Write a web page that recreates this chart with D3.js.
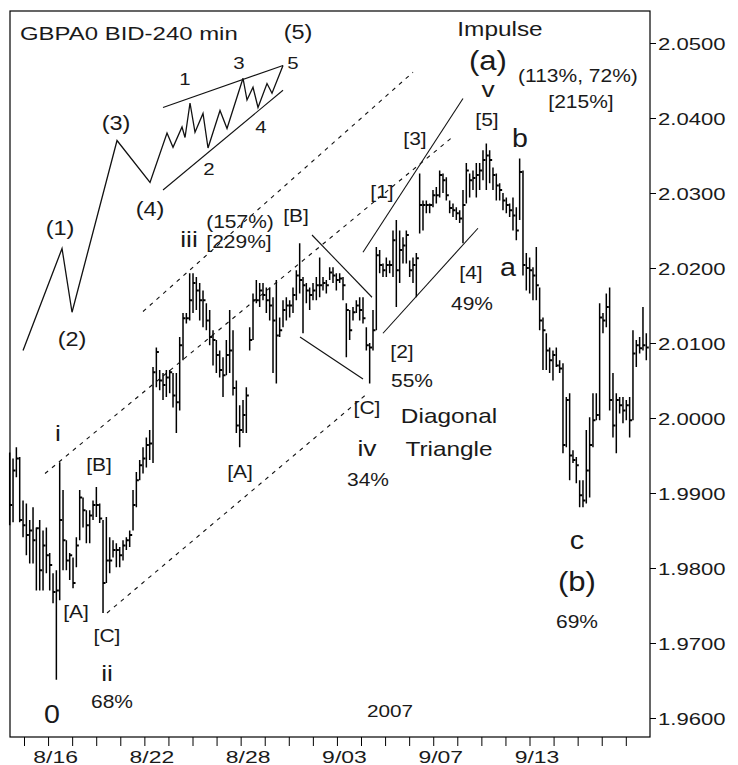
<!DOCTYPE html>
<html>
<head>
<meta charset="utf-8">
<script src="https://cdn.jsdelivr.net/npm/d3@7/dist/d3.min.js"></script>
<style>
  body { margin: 0; background: #fff; }
  text { font-family: "Liberation Sans", Arial, sans-serif; fill: #1a1a1a; }
</style>
</head>
<body>
<svg id="chart"></svg>
<script>
// GBP/USD 240 min bars, 2007
const highs = [
  1.9954,1.9946,1.9961,1.9948,1.9890,1.9886,1.9864,1.9881,1.9854,1.9864,
  1.9850,1.9854,1.9820,1.9793,1.9797,1.9941,1.9904,1.9837,1.9820,1.9814,
  1.9841,1.9904,1.9894,1.9877,1.9877,1.9890,1.9908,1.9886,1.9864,1.9868,
  1.9841,1.9837,1.9833,1.9828,1.9837,1.9841,1.9850,1.9904,1.9928,1.9944,
  1.9961,1.9974,1.9984,2.0068,2.0094,2.0064,2.0060,2.0064,2.0064,2.0060,
  2.0060,2.0108,2.0140,2.0140,2.0193,2.0193,2.0188,2.0180,2.0170,2.0153,
  2.0144,2.0117,2.0104,2.0090,2.0081,2.0104,2.0144,2.0117,2.0050,2.0017,
  2.0024,2.0041,2.0121,2.0166,2.0184,2.0180,2.0180,2.0174,2.0174,2.0161,
  2.0184,2.0134,2.0157,2.0161,2.0157,2.0174,2.0197,2.0233,2.0188,2.0180,
  2.0174,2.0180,2.0188,2.0214,2.0188,2.0184,2.0201,2.0201,2.0193,2.0193,
  2.0188,2.0153,2.0144,2.0148,2.0157,2.0161,2.0161,2.0121,2.0100,2.0144,
  2.0228,2.0224,2.0206,2.0214,2.0210,2.0250,2.0264,2.0250,2.0241,2.0250,
  2.0210,2.0214,2.0220,2.0326,2.0290,2.0290,2.0286,2.0304,2.0308,2.0330,
  2.0326,2.0321,2.0290,2.0286,2.0281,2.0277,2.0304,2.0340,2.0326,2.0330,
  2.0340,2.0340,2.0357,2.0366,2.0357,2.0334,2.0326,2.0313,2.0300,2.0294,
  2.0286,2.0294,2.0281,2.0346,2.0330,2.0220,2.0214,2.0201,2.0228,2.0174,
  2.0134,2.0113,2.0094,2.0090,2.0094,2.0077,2.0073,2.0028,2.0033,1.9957,
  1.9948,1.9917,1.9917,1.9984,2.0001,2.0033,2.0033,2.0153,2.0140,2.0166,
  2.0174,2.0060,2.0033,2.0028,2.0028,2.0024,2.0028,2.0117,2.0104,2.0108,
  2.0148,2.0113
];
const lows = [
  1.9857,1.9861,1.9921,1.9861,1.9841,1.9817,1.9806,1.9806,1.9770,1.9770,
  1.9770,1.9793,1.9770,1.9753,1.9651,1.9757,1.9797,1.9797,1.9784,1.9773,
  1.9801,1.9837,1.9854,1.9833,1.9833,1.9864,1.9868,1.9860,1.9740,1.9780,
  1.9793,1.9814,1.9801,1.9801,1.9810,1.9824,1.9828,1.9850,1.9881,1.9917,
  1.9926,1.9934,1.9944,1.9940,2.0041,2.0037,2.0024,2.0028,2.0033,2.0014,
  1.9980,2.0010,2.0077,2.0126,2.0130,2.0140,2.0144,2.0130,2.0121,2.0117,
  2.0097,2.0070,2.0060,2.0054,2.0028,2.0057,2.0060,2.0030,1.9980,1.9961,
  1.9980,1.9980,2.0090,2.0104,2.0153,2.0148,2.0157,2.0140,2.0130,2.0060,
  2.0046,2.0108,2.0121,2.0130,2.0134,2.0140,2.0157,2.0166,2.0113,2.0153,
  2.0144,2.0157,2.0157,2.0161,2.0170,2.0166,2.0184,2.0180,2.0170,2.0180,
  2.0157,2.0081,2.0104,2.0130,2.0140,2.0130,2.0126,2.0090,2.0046,2.0090,
  2.0117,2.0193,2.0188,2.0188,2.0193,2.0188,2.0148,2.0180,2.0206,2.0206,
  2.0188,2.0180,2.0161,2.0246,2.0250,2.0273,2.0273,2.0281,2.0286,2.0294,
  2.0300,2.0290,2.0273,2.0268,2.0264,2.0260,2.0233,2.0286,2.0294,2.0304,
  2.0294,2.0304,2.0317,2.0304,2.0313,2.0304,2.0290,2.0290,2.0277,2.0273,
  2.0268,2.0250,2.0237,2.0264,2.0190,2.0170,2.0166,2.0157,2.0157,2.0117,
  2.0064,2.0064,2.0060,2.0050,2.0068,2.0060,1.9953,1.9961,1.9917,1.9940,
  1.9913,1.9881,1.9881,1.9886,1.9894,1.9961,1.9997,1.9997,2.0113,2.0121,
  2.0010,1.9974,1.9953,2.0006,1.9993,1.9997,1.9974,1.9997,2.0068,2.0086,
  2.0090,2.0077
];
const closes = [
  1.9884,1.9930,1.9946,1.9864,1.9857,1.9844,1.9850,1.9837,1.9853,1.9797,
  1.9830,1.9817,1.9804,1.9768,1.9770,1.9864,1.9837,1.9810,1.9817,1.9780,
  1.9830,1.9894,1.9877,1.9857,1.9870,1.9884,1.9884,1.9866,1.9780,1.9810,
  1.9810,1.9824,1.9824,1.9817,1.9830,1.9837,1.9844,1.9884,1.9917,1.9937,
  1.9946,1.9964,1.9966,2.0061,2.0088,2.0050,2.0044,2.0054,2.0061,2.0030,
  2.0021,2.0097,2.0133,2.0133,2.0157,2.0180,2.0170,2.0157,2.0157,2.0130,
  2.0108,2.0104,2.0084,2.0064,2.0057,2.0084,2.0090,2.0040,1.9990,1.9984,
  2.0004,2.0030,2.0104,2.0157,2.0157,2.0170,2.0164,2.0157,2.0150,2.0130,
  2.0110,2.0117,2.0144,2.0150,2.0150,2.0164,2.0190,2.0184,2.0177,2.0170,
  2.0164,2.0170,2.0177,2.0177,2.0180,2.0177,2.0194,2.0190,2.0184,2.0186,
  2.0177,2.0144,2.0117,2.0141,2.0150,2.0144,2.0133,2.0097,2.0094,2.0117,
  2.0217,2.0204,2.0197,2.0204,2.0204,2.0237,2.0197,2.0224,2.0230,2.0244,
  2.0197,2.0204,2.0213,2.0284,2.0284,2.0284,2.0284,2.0297,2.0297,2.0324,
  2.0317,2.0297,2.0280,2.0277,2.0273,2.0266,2.0284,2.0330,2.0317,2.0320,
  2.0324,2.0330,2.0344,2.0350,2.0344,2.0324,2.0310,2.0304,2.0290,2.0284,
  2.0277,2.0270,2.0250,2.0328,2.0204,2.0200,2.0197,2.0190,2.0177,2.0130,
  2.0117,2.0090,2.0077,2.0084,2.0070,2.0066,1.9964,2.0024,1.9950,1.9944,
  1.9937,1.9897,1.9890,1.9930,1.9964,1.9997,2.0004,2.0134,2.0130,2.0148,
  2.0024,1.9990,2.0024,2.0017,2.0010,2.0017,1.9997,2.0086,2.0097,2.0093,
  2.0097,2.0094
];

const dayLabels = ['8/15','8/16','8/17','8/20','8/21','8/22','8/23','8/24','8/27','8/28',
  '8/29','8/30','8/31','9/03','9/04','9/05','9/06','9/07','9/10','9/11',
  '9/12','9/13','9/14','9/17','9/18','9/19'];
const labeledDays = ['8/16','8/22','8/28','9/03','9/07','9/13'];
const priceTicks = [1.96, 1.97, 1.98, 1.99, 2.00, 2.01, 2.02, 2.03, 2.04, 2.05];
const yearLabel = '2007';
const title = 'GBPA0 BID-240 min';

// wave labels: [text, bar index, price, kind]
const waveLabels = [
  ['(5)', 86.5, 2.0506, 'paren'], ['5', 85.0, 2.0466, 'num'], ['3', 68.8, 2.0466, 'num'],
  ['1', 52.6, 2.0444, 'num'], ['(3)', 31.9, 2.0384, 'paren'], ['2', 59.8, 2.0324, 'num'],
  ['4', 75.4, 2.0380, 'num'], ['(4)', 42.1, 2.0270, 'paren'], ['(1)', 15.1, 2.0244, 'paren'],
  ['(2)', 18.7, 2.0096, 'paren'],
  ['(157%)', 69.1, 2.0254, 'note'], ['[229%]', 68.8, 2.0227, 'note'], ['iii', 53.8, 2.0228, 'roman'],
  ['[B]', 85.9, 2.0262, 'note'],
  ['Impulse', 147.1, 2.0510, 'word'], ['(a)', 143.5, 2.0464, 'big'], ['(113%, 72%)', 170.5, 2.0448, 'note'],
  ['[215%]', 171.4, 2.0414, 'note'], ['v', 143.5, 2.0428, 'roman'], ['[5]', 143.2, 2.0390, 'note'],
  ['b', 153.1, 2.0362, 'letter'], ['[3]', 121.6, 2.0364, 'note'], ['[1]', 111.7, 2.0293, 'note'],
  ['[4]', 138.4, 2.0186, 'note'], ['49%', 138.7, 2.0144, 'note'], ['a', 149.5, 2.0190, 'letter'],
  ['[2]', 117.7, 2.0080, 'note'], ['55%', 120.7, 2.0042, 'note'], ['[C]', 107.2, 2.0006, 'note'],
  ['iv', 107.2, 1.9950, 'roman'], ['34%', 107.5, 1.9909, 'note'],
  ['Diagonal', 131.8, 1.9993, 'word'], ['Triangle', 131.8, 1.9950, 'word'],
  ['i', 14.5, 1.9970, 'roman'], ['[B]', 26.8, 1.9929, 'note'], ['[A]', 69.1, 1.9920, 'note'],
  ['[A]', 19.9, 1.9733, 'note'], ['[C]', 29.2, 1.9702, 'note'], ['ii', 29.2, 1.9650, 'roman'],
  ['68%', 30.7, 1.9613, 'note'], ['0', 12.7, 1.9593, 'letter'],
  ['c', 170.2, 1.9826, 'letter'], ['(b)', 170.2, 1.9770, 'big'], ['69%', 170.2, 1.9720, 'note']
];

// schematic of the wave count, top left: [bar index, price]
const waveSketch = [
  [4.0, 2.0090], [15.7, 2.0226], [18.7, 2.0141], [32.2, 2.0370], [42.1, 2.0314],
  [47.2, 2.0380], [49.0, 2.0361], [51.7, 2.0388], [52.6, 2.0374], [54.1, 2.0420],
  [55.6, 2.0381], [58.0, 2.0406], [59.5, 2.0360], [63.1, 2.0410], [65.2, 2.0386],
  [70.0, 2.0453], [71.2, 2.0424], [73.0, 2.0441], [74.5, 2.0414], [77.2, 2.0446],
  [78.7, 2.0433], [82.0, 2.0470]
];

// trend lines: [[bar, price], [bar, price]]
const solidLines = [
  [[46.0, 2.0414], [82.0, 2.0470]],
  [[46.0, 2.0304], [82.0, 2.0437]],
  [[106.0, 2.0221], [136.0, 2.0426]],
  [[112.0, 2.0113], [140.5, 2.0253]],
  [[90.7, 2.0244], [108.7, 2.0161]],
  [[87.1, 2.0108], [106.0, 2.0052]]
];
const dashedLines = [
  [[40.0, 2.0142], [121.0, 2.0461]],
  [[10.6, 1.9926], [132.7, 2.0374]],
  [[29.2, 1.9740], [106.6, 2.0030]]
];

const width = 738, height = 765;
const frameL = 10, frameR = 650, frameT = 11, frameB = 737;

const svg = d3.select('#chart').attr('width', width).attr('height', height);

const y = d3.scaleLinear().domain([1.96, 2.05]).range([718, 43]);
const x = d3.scaleLinear().domain([0, highs.length - 1]).range([9.7, 646.3]);
const xDay = d3.scaleLinear().domain([0, dayLabels.length - 1]).range([24, 625.8]);

const labelStyle = {
  note:   { size: 17.5, sx: 1.2 },
  num:    { size: 17, sx: 1.2 },
  paren:  { size: 21, sx: 1.12 },
  roman:  { size: 22, sx: 1.2 },
  letter: { size: 26, sx: 1.1 },
  big:    { size: 27, sx: 1.15 },
  word:   { size: 20, sx: 1.22 }
};

function stretchedText(g, txt, px, py, size, sx, anchor) {
  return g.append('text')
    .attr('transform', `translate(${px},${py}) scale(${sx},1)`)
    .attr('text-anchor', anchor || 'middle')
    .attr('font-size', size)
    .text(txt);
}

// frame
svg.append('rect')
  .attr('x', frameL).attr('y', frameT)
  .attr('width', frameR - frameL).attr('height', frameB - frameT)
  .attr('fill', 'none').attr('stroke', '#000').attr('stroke-width', 1.2);

// right price axis
const yAxis = svg.append('g')
  .attr('transform', `translate(${frameR},0)`)
  .call(d3.axisRight(y).tickValues(priceTicks).tickSize(6).tickFormat(d3.format('.4f')));
yAxis.select('.domain').remove();
yAxis.selectAll('line').attr('stroke', '#000');
yAxis.selectAll('text')
  .attr('x', null).attr('dy', null)
  .attr('transform', 'translate(8,6) scale(1.3,1)')
  .attr('font-size', 17)
  .attr('font-family', '"Liberation Sans", Arial, sans-serif')
  .attr('fill', '#1a1a1a');

// bottom date axis
const xAxis = svg.append('g')
  .attr('transform', `translate(0,${frameB})`)
  .call(d3.axisBottom(xDay)
    .tickValues(d3.range(dayLabels.length))
    .tickSize(9)
    .tickFormat(i => labeledDays.includes(dayLabels[i]) ? dayLabels[i] : ''));
xAxis.select('.domain').remove();
xAxis.selectAll('line').attr('stroke', '#000');
xAxis.selectAll('text')
  .attr('y', null).attr('dy', null)
  .attr('transform', 'translate(7,26) scale(1.35,1)')
  .attr('font-size', 17)
  .attr('font-family', '"Liberation Sans", Arial, sans-serif')
  .attr('fill', '#1a1a1a');

// price bars
const bars = svg.append('g');
bars.selectAll('line.hl')
  .data(highs)
  .enter().append('line')
    .attr('class', 'hl')
    .attr('x1', (d, i) => x(i)).attr('x2', (d, i) => x(i))
    .attr('y1', d => y(d)).attr('y2', (d, i) => y(lows[i]))
    .attr('stroke', '#000').attr('stroke-width', 1.5);
bars.selectAll('line.cl')
  .data(closes)
  .enter().append('line')
    .attr('class', 'cl')
    .attr('x1', (d, i) => x(i)).attr('x2', (d, i) => x(i) + 2.5)
    .attr('y1', d => y(d)).attr('y2', d => y(d))
    .attr('stroke', '#000').attr('stroke-width', 2);

// wave sketch and trend lines
const lineGen = d3.line().x(d => x(d[0])).y(d => y(d[1]));
const notes = svg.append('g');
notes.append('path')
  .attr('d', lineGen(waveSketch))
  .attr('fill', 'none').attr('stroke', '#111').attr('stroke-width', 1.3);
notes.selectAll('path.solid')
  .data(solidLines)
  .enter().append('path')
    .attr('class', 'solid')
    .attr('d', lineGen)
    .attr('fill', 'none').attr('stroke', '#111').attr('stroke-width', 1.1);
notes.selectAll('path.dash')
  .data(dashedLines)
  .enter().append('path')
    .attr('class', 'dash')
    .attr('d', lineGen)
    .attr('fill', 'none').attr('stroke', '#111').attr('stroke-width', 1.1)
    .attr('stroke-dasharray', '4,5');

// labels
waveLabels.forEach(([txt, b, p, kind]) => {
  const st = labelStyle[kind];
  stretchedText(notes, txt, x(b), y(p), st.size, st.sx);
});
stretchedText(notes, yearLabel, (frameL + frameR) / 2 + 60, frameB - 20, 17, 1.22);
stretchedText(notes, title, frameL + 10, frameT + 29, 19, 1.26, 'start');
</script>
</body>
</html>
